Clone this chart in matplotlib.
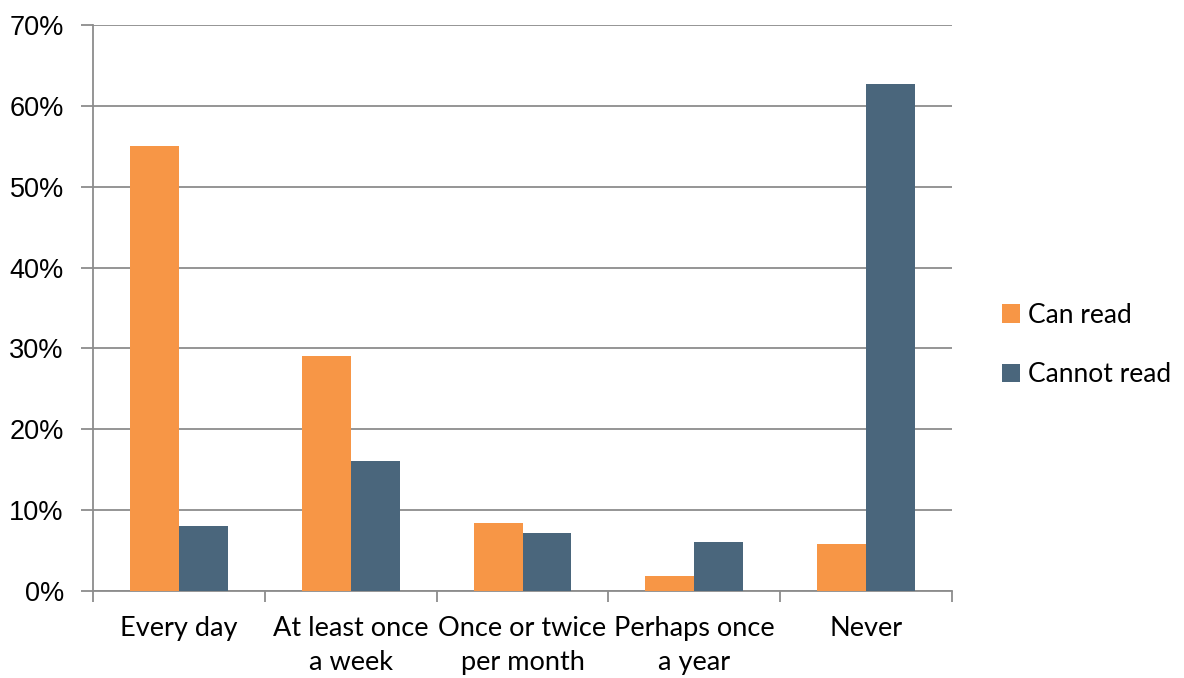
import matplotlib
matplotlib.use("Agg")
import matplotlib.pyplot as plt
import numpy as np
from matplotlib.ticker import FixedLocator, FuncFormatter

categories = ["Every day", "At least once\na week", "Once or twice\nper month", "Perhaps once\na year", "Never"]
can_read = [55.0, 29.1, 8.4, 1.8, 5.8]
cannot_read = [8.1, 16.1, 7.2, 6.1, 62.7]
series_names = ["Can read", "Cannot read"]
colors = ["#F79646", "#4A667C"]

fig = plt.figure(figsize=(11.84, 6.78), dpi=100)
ax = fig.add_axes([93/1184, 87/678, (952-93)/1184, (591-25)/678])

x = np.arange(len(categories))
w = 0.285
b1 = ax.bar(x - w/2, can_read, w, color=colors[0], label=series_names[0], zorder=3)
b2 = ax.bar(x + w/2, cannot_read, w, color=colors[1], label=series_names[1], zorder=3)

ax.set_xlim(-0.5, len(categories) - 0.5)
ax.set_ylim(0, 70)
ax.set_yticks(np.arange(0, 71, 10))
ax.yaxis.set_major_formatter(FuncFormatter(lambda v, p: f"{int(v)}%"))
ax.grid(axis="y", color="#8C8C8C", linewidth=1.3, zorder=0)

ax.set_xticks(x)
ax.set_xticklabels(categories, fontfamily="Lato", fontsize=19.5, linespacing=1.45)
ax.xaxis.set_minor_locator(FixedLocator(np.arange(-0.5, len(categories), 1.0)))
ax.tick_params(axis="x", which="major", length=0, pad=18)
ax.tick_params(axis="x", which="minor", length=8, width=1.3, color="#8C8C8C", direction="out")
ax.tick_params(axis="y", length=9, width=1.3, color="#8C8C8C", direction="out", pad=12)
for lab in ax.get_yticklabels():
    lab.set_fontfamily("Liberation Sans")
    lab.set_fontsize(19.5)

for s in ["top", "right"]:
    ax.spines[s].set_visible(False)
for s in ["left", "bottom"]:
    ax.spines[s].set_color("#8C8C8C")
    ax.spines[s].set_linewidth(1.3)

leg = fig.legend(handles=[b1, b2], loc="center left", bbox_to_anchor=(1002/1184, 1 - 345/678),
                 frameon=False, prop={"family": "Lato", "size": 19}, borderpad=0, borderaxespad=0,
                 handlelength=0.7, handleheight=0.7, handletextpad=0.3, labelspacing=1.3)

fig.savefig("out.png", dpi=100)
